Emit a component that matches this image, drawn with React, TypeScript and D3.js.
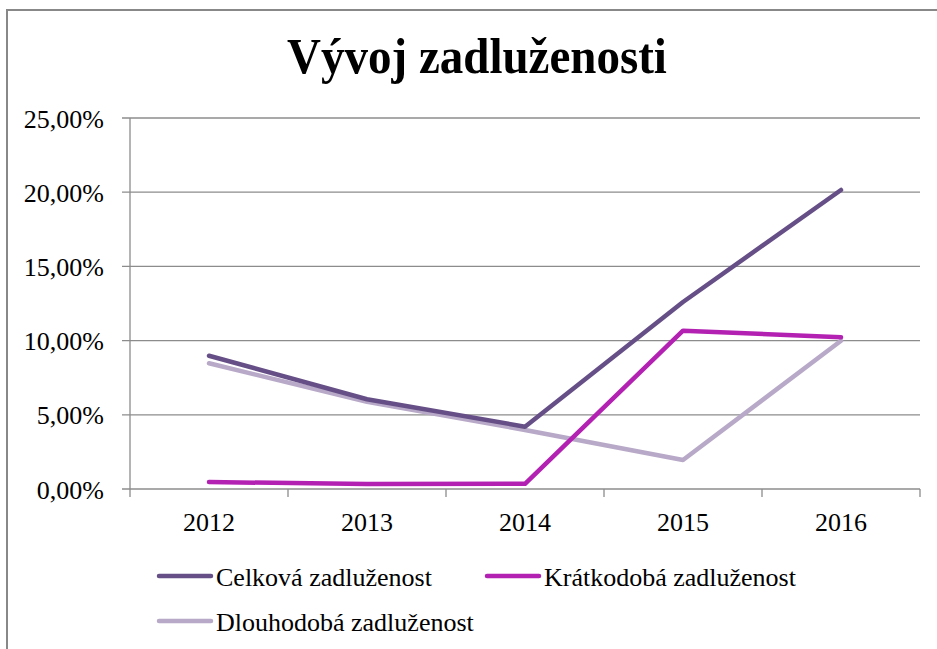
import React, { useRef, useEffect } from 'react'
import * as d3 from 'd3'

const years = ['2012', '2013', '2014', '2015', '2016']
const celkova = [8.98, 6.05, 4.2, 12.6, 20.15]
const kratkodoba = [0.47, 0.33, 0.35, 10.67, 10.22]
const dlouhodoba = [8.47, 5.88, 3.98, 1.95, 9.99]
const yTicks = [0, 5, 10, 15, 20, 25]

const seriesNames = ['Celková zadluženost', 'Krátkodobá zadluženost', 'Dlouhodobá zadluženost']
const seriesColors = ['#664f86', '#b321b3', '#b7a9c7']

const W = 937
const H = 649

const App: React.FC = () => {
  const svgRef = useRef<SVGSVGElement>(null)

  useEffect(() => {
    if (!svgRef.current) return
    const svg = d3.select(svgRef.current)
    svg.selectAll('*').remove()

    const font = '"Liberation Serif", "Times New Roman", serif'
    const left = 130, right = 920, top = 118, bottom = 489

    // rámeček grafu
    svg.append('rect')
      .attr('x', 7).attr('y', 10)
      .attr('width', W + 20).attr('height', H + 20)
      .attr('fill', '#fff')
      .attr('stroke', '#888').attr('stroke-width', 2)

    svg.append('text')
      .attr('transform', 'translate(477,73) scale(1,1.09)')
      .attr('text-anchor', 'middle')
      .attr('font-family', font)
      .attr('font-weight', 'bold')
      .attr('font-size', 47)
      .attr('fill', '#000')
      .text('Vývoj zadluženosti')

    const x = d3.scaleBand<string>().domain(years).range([left, right])
    const y = d3.scaleLinear().domain([0, 25]).range([bottom, top])

    // mřížka
    svg.append('g').selectAll('line')
      .data(yTicks)
      .enter().append('line')
      .attr('x1', left - 8).attr('x2', right)
      .attr('y1', d => y(d)).attr('y2', d => y(d))
      .attr('stroke', '#8c8c8c').attr('stroke-width', 1.3)

    svg.append('line')
      .attr('x1', left).attr('x2', left)
      .attr('y1', top).attr('y2', bottom)
      .attr('stroke', '#8c8c8c').attr('stroke-width', 1.3)

    const xTicks = years.map(d => x(d)!).concat([right])
    svg.append('g').selectAll('line')
      .data(xTicks)
      .enter().append('line')
      .attr('x1', d => d).attr('x2', d => d)
      .attr('y1', bottom).attr('y2', bottom + 8)
      .attr('stroke', '#8c8c8c').attr('stroke-width', 1.3)

    svg.append('g').selectAll('text')
      .data(yTicks)
      .enter().append('text')
      .attr('x', 104)
      .attr('y', d => y(d) + 9.5)
      .attr('text-anchor', 'end')
      .attr('font-family', font)
      .attr('font-size', 26)
      .text(d => d.toFixed(2).replace('.', ',') + '%')

    svg.append('g').selectAll('text')
      .data(years)
      .enter().append('text')
      .attr('x', d => x(d)! + x.bandwidth() / 2)
      .attr('y', 531)
      .attr('text-anchor', 'middle')
      .attr('font-family', font)
      .attr('font-size', 26)
      .text(d => d)

    const line = d3.line<number>()
      .x((_, i) => x(years[i])! + x.bandwidth() / 2)
      .y(d => y(d))

    const allSeries = [celkova, kratkodoba, dlouhodoba]
    // pořadí kreslení: dlouhodobá pod ostatními
    ;[2, 0, 1].forEach(i => {
      svg.append('path')
        .datum(allSeries[i])
        .attr('d', line)
        .attr('fill', 'none')
        .attr('stroke', seriesColors[i])
        .attr('stroke-width', 4.5)
        .attr('stroke-linecap', 'round')
        .attr('stroke-linejoin', 'round')
    })

    // legenda
    const legendPos = [
      { x: 159, y: 576 },
      { x: 487, y: 576 },
      { x: 159, y: 621 }
    ]
    seriesNames.forEach((name, i) => {
      const g = svg.append('g').attr('transform', `translate(${legendPos[i].x},${legendPos[i].y})`)
      g.append('line')
        .attr('x1', 0).attr('x2', 52)
        .attr('stroke', seriesColors[i])
        .attr('stroke-width', 4.5)
        .attr('stroke-linecap', 'round')
      g.append('text')
        .attr('x', 57).attr('y', 9.5)
        .attr('font-family', font)
        .attr('font-size', 26)
        .text(name)
    })
  }, [])

  return (
    <svg
      ref={svgRef}
      width={W}
      height={H}
      style={{ position: 'absolute', left: 0, top: 0, display: 'block' }}
    />
  )
}

export default App
